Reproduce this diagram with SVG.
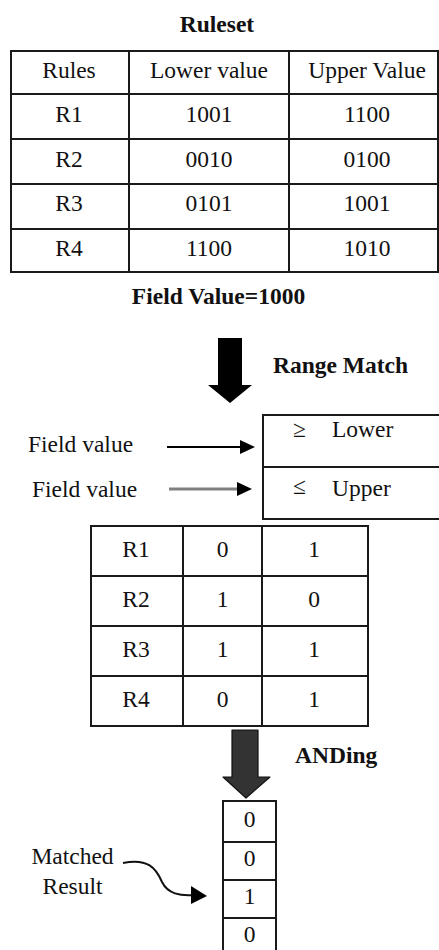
<svg xmlns="http://www.w3.org/2000/svg" width="439" height="950" viewBox="0 0 439 950" font-family="Liberation Serif, DejaVu Serif, serif">
<style>
text{font-family:'Liberation Serif','DejaVu Serif',serif;font-size:23.5px;fill:#111}
.b{font-weight:bold}
.c{text-anchor:middle}
.grid{fill:none;stroke:#1a1a1a;stroke-width:2}
.cell{fill:#fff;stroke:#1a1a1a;stroke-width:2}
</style>
<rect width="439" height="950" fill="#fff"/>

<g id="title-ruleset"><text class="b c" x="217" y="32">Ruleset</text></g>

<g id="ruleset-table">
<rect class="grid" x="11" y="51" width="427" height="221"/>
<path class="grid" d="M11 94H438M11 139H438M11 184H438M11 229H438M129 51V272M289 51V272"/>
<text class="c" x="69" y="78">Rules</text>
<text class="c" x="209" y="78">Lower value</text>
<text class="c" x="367" y="78">Upper Value</text>
<text class="c" x="69" y="122">R1</text><text class="c" x="209" y="122">1001</text><text class="c" x="367" y="122">1100</text>
<text class="c" x="69" y="166.5">R2</text><text class="c" x="209" y="166.5">0010</text><text class="c" x="367" y="166.5">0100</text>
<text class="c" x="69" y="211">R3</text><text class="c" x="209" y="211">0101</text><text class="c" x="367" y="211">1001</text>
<text class="c" x="69" y="255.5">R4</text><text class="c" x="209" y="255.5">1100</text><text class="c" x="367" y="255.5">1010</text>
</g>

<g id="field-value-title"><text class="b c" x="218.5" y="304">Field Value=1000</text></g>

<g id="label-range-match"><text class="b" x="273" y="373">Range Match</text></g>

<g id="range-box">
<rect class="cell" x="263" y="415" width="190" height="104"/>
<path class="grid" d="M263 467H440"/>
<text x="293" y="437" font-size="20">≥</text>
<text x="332" y="437">Lower</text>
<text x="293" y="494" font-size="20">≤</text>
<text x="332" y="496">Upper</text>
</g>

<g id="field-labels">
<text x="28" y="452">Field value</text>
<text x="32" y="497">Field value</text>
</g>

<g id="match-table">
<rect class="grid" x="91" y="526" width="277" height="200"/>
<path class="grid" d="M91 576H368M91 626H368M91 676H368M183 526V726M262 526V726"/>
<text class="c" x="136" y="557">R1</text><text class="c" x="222.5" y="557">0</text><text class="c" x="314" y="557">1</text>
<text class="c" x="136" y="607">R2</text><text class="c" x="222.5" y="607">1</text><text class="c" x="314" y="607">0</text>
<text class="c" x="136" y="657">R3</text><text class="c" x="222.5" y="657">1</text><text class="c" x="314" y="657">1</text>
<text class="c" x="136" y="707">R4</text><text class="c" x="222.5" y="707">0</text><text class="c" x="314" y="707">1</text>
</g>

<g id="label-anding"><text class="b" x="295" y="763">ANDing</text></g>

<g id="result-column">
<rect class="grid" x="223" y="801" width="53" height="160"/>
<path class="grid" d="M223 842H276M223 880H276M223 918H276"/>
<text class="c" x="249.5" y="827">0</text>
<text class="c" x="249.5" y="866">0</text>
<text class="c" x="249.5" y="904">1</text>
<text class="c" x="249.5" y="942">0</text>
</g>

<g id="label-matched">
<text class="c" x="72.5" y="864">Matched</text>
<text class="c" x="72.5" y="894">Result</text>
</g>

<g id="connectors">
<polygon points="218,338 242,338 242,385 252,385 230,403 208,385 218,385" fill="#000"/>
<polygon points="232,730 258,730 258,777 270,777 246,798 223,777 232,777" fill="#333" stroke="#111" stroke-width="1.2" stroke-linejoin="round"/>
<path d="M167 447H242" stroke="#000" stroke-width="2"/>
<polygon points="240,440 255,447 240,454" fill="#000"/>
<path d="M169 489H239" stroke="#808080" stroke-width="3"/>
<polygon points="237,482 252,489 237,496" fill="#000"/>
<path d="M123 863C148 858 156 868 162 882C168 894 180 896 194 895" fill="none" stroke="#111" stroke-width="2"/>
<polygon points="191,886 207,896 191,904" fill="#000"/>
</g>
</svg>
